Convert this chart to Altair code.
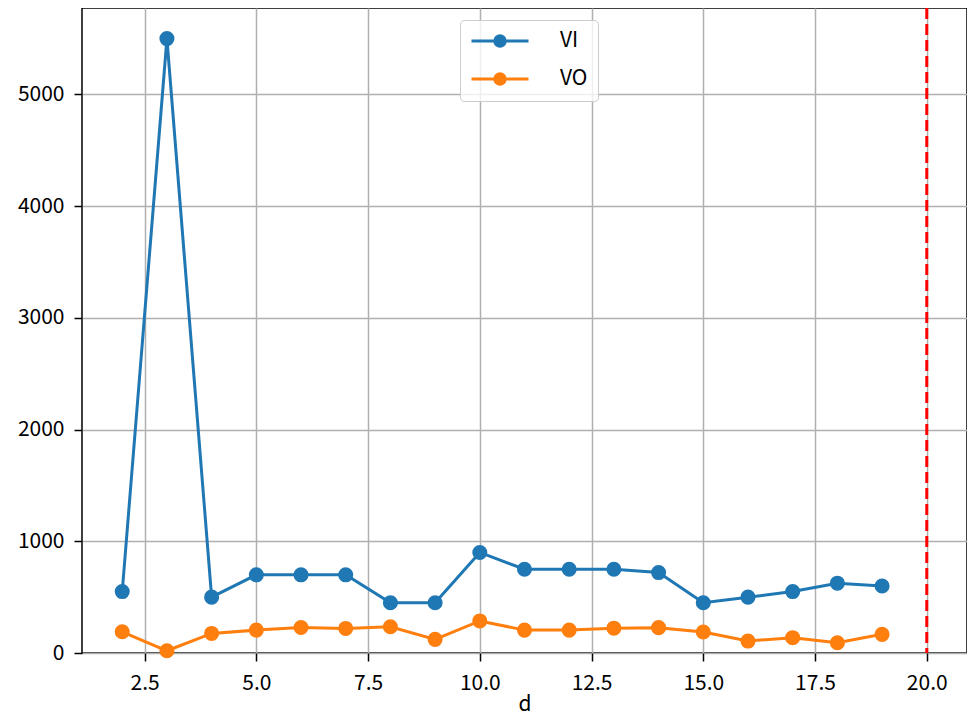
import altair as alt
import pandas as pd

d = list(range(2, 20))
vi = [550, 5500, 500, 700, 700, 700, 450, 450, 900, 750, 750, 750, 720, 450, 500, 550, 625, 600]
vo = [190, 20, 175, 205, 228, 220, 235, 122, 287, 205, 205, 222, 227, 188, 107, 137, 92, 167]
series = ["VI", "VO"]
colors = ["#1f77b4", "#ff7f0e"]
vline_x = [20]
x_ticks = [2.5, 5.0, 7.5, 10.0, 12.5, 15.0, 17.5, 20.0]
y_ticks = [0, 1000, 2000, 3000, 4000, 5000]

df = pd.DataFrame(
    {"d": d * 2, "value": vi + vo, "series": ["VI"] * len(d) + ["VO"] * len(d)}
)
vdf = pd.DataFrame({"x": vline_x})

FONT = "Noto Sans CJK JP"

xenc = alt.X(
    "d:Q",
    scale=alt.Scale(domain=[1.1, 20.9], nice=False, zero=False),
    axis=alt.Axis(values=x_ticks, format=".1f", title="d", labelPadding=11, titlePadding=0),
)
yenc = alt.Y(
    "value:Q",
    scale=alt.Scale(domain=[0, 5774], nice=False),
    axis=alt.Axis(values=y_ticks, format="d", title=None, labelPadding=10),
)
legend_path = "M-1,0H5M1.45,0A0.55,0.55,0,1,0,2.55,0A0.55,0.55,0,1,0,1.45,0Z"
cenc = alt.Color(
    "series:N",
    scale=alt.Scale(domain=series, range=colors),
    legend=alt.Legend(
        title=None,
        orient="none",
        legendX=378,
        legendY=12,
        symbolType=legend_path,
        symbolSize=361,
        symbolStrokeWidth=3,
        labelOffset=68,
        rowPadding=14,
        padding=10,
        fillColor="rgba(255,255,255,0.8)",
        strokeColor="#cccccc",
        cornerRadius=4,
        labelFontSize=21,
        labelFont=FONT,
        labelColor="black",
    ),
)

base = alt.Chart(df)
layers = []
for s in series:
    f = base.transform_filter(alt.datum.series == s)
    layers.append(
        f.mark_line(strokeWidth=3).encode(x=xenc, y=yenc, color=cenc)
    )
    layers.append(
        f.mark_point(filled=True, size=227, opacity=1).encode(x=xenc, y=yenc, color=cenc)
    )

rule = (
    alt.Chart(vdf)
    .mark_rule(color="#ff0000", strokeWidth=3, strokeDash=[11, 5])
    .encode(x=alt.X("x:Q"))
)
layers.append(rule)

chart = (
    alt.layer(*layers)
    .properties(
        width=885,
        height=645,
        autosize=alt.AutoSizeParams(type="none"),
        padding={"left": 74, "top": 0, "right": 0, "bottom": 64},
    )
    .configure_view(stroke="black", strokeWidth=1.5)
    .configure_axis(
        domain=False,
        grid=True,
        gridColor="#b0b0b0",
        gridWidth=1.5,
        ticks=True,
        tickColor="black",
        tickWidth=1.5,
        tickSize=8,
        labelFont=FONT,
        labelFontSize=21,
        labelColor="black",
        titleFont=FONT,
        titleFontSize=21,
        titleFontWeight="normal",
        titleColor="black",
    )
)

chart.save("out.html", embed_options={"renderer": "svg", "actions": False})
